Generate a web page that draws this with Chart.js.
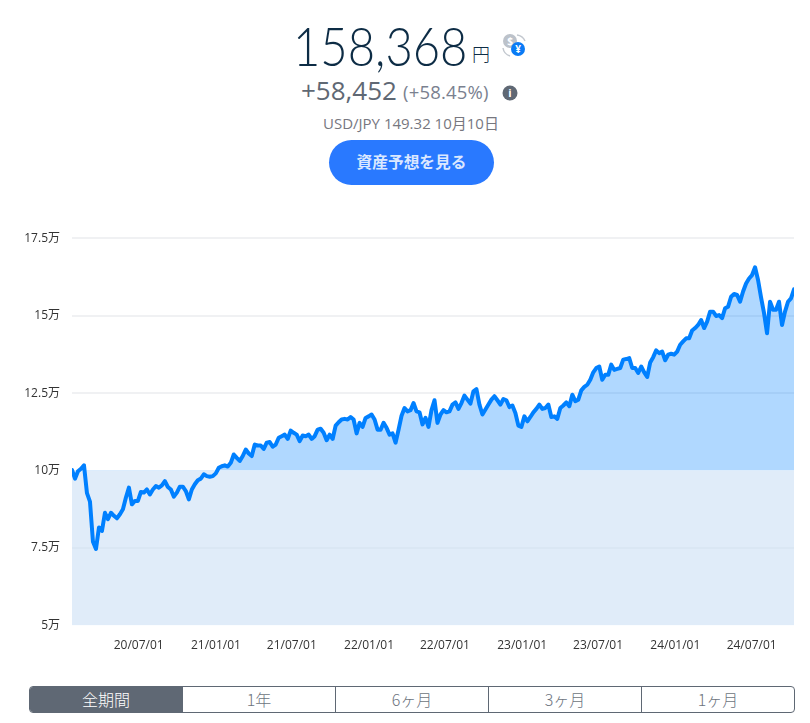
<!DOCTYPE html>
<html lang="ja">
<head>
<meta charset="utf-8">
<title>資産推移</title>
<script src="https://cdn.jsdelivr.net/npm/chart.js@4"></script>
<style>
    html, body { margin: 0; padding: 0; background: #fff; }
    body { width: 810px; height: 723px; position: relative; overflow: hidden; font-family: "Open Sans", "Noto Sans CJK JP", sans-serif; }
    .abs { position: absolute; white-space: nowrap; line-height: 1; }
    #total { left: 293px; top: 19px; font-family: "Lato", "Noto Sans CJK JP", sans-serif; font-weight: 300; font-size: 53px; color: #0d2c45; transform: scaleX(0.89); transform-origin: left top; }
    #unit { left: 472px; top: 44px; font-family: "Noto Sans CJK JP"; font-weight: 300; font-size: 18px; color: #0d2c45; }
    #gain { left: 301px; top: 77px; font-size: 26px; color: #5f6874; }
    #rate { left: 403px; top: 83px; font-size: 18.5px; letter-spacing: 0.2px; color: #7a8190; }
    #fx { left: 323px; top: 115px; font-size: 15px; color: #77777f; }
    #fx span { font-family: "Noto Sans CJK JP"; }
    #forecast { left: 329px; top: 140px; width: 165px; height: 45px; border-radius: 23px; background: #2979ff; color: #dbe8ff; font-family: "Noto Sans CJK JP"; font-weight: 700; font-size: 15.7px; line-height: 43px; text-align: center; }
    #chart-box { position: absolute; left: 0; top: 219px; width: 810px; height: 441px; }
    #tabs { position: absolute; left: 29px; top: 686px; width: 764px; height: 25px; border: 1px solid #5f6874; border-radius: 4px; display: flex; overflow: hidden; }
    #tabs div { flex: 1; text-align: center; line-height: 24px; font-family: "Noto Sans CJK JP"; font-weight: 300; font-size: 16px; color: #6d7480; border-left: 1px solid #5f6874; }
    #tabs div:first-child { border-left: 0; background: #5f6874; color: #fff; }
</style>
</head>
<body>
<div class="abs" id="total">158,368</div>
<div class="abs" id="unit">円</div>
<svg class="abs" style="left:501px;top:32px" width="26" height="26" viewBox="0 0 26 26">
    <path d="M16 3 A10 10 0 0 1 24 9" fill="none" stroke="#c3c8cf" stroke-width="1.5"/>
    <path d="M2 16 A10 10 0 0 0 9 24" fill="none" stroke="#c3c8cf" stroke-width="1.5"/>
    <circle cx="9" cy="9" r="7" fill="#bcc2ca"/>
    <text x="9" y="13" font-size="10" font-weight="700" text-anchor="middle" fill="#fff" font-family="Open Sans">$</text>
    <circle cx="17" cy="17" r="7" fill="#0a7bf5"/>
    <text x="17" y="21" font-size="10" font-weight="700" text-anchor="middle" fill="#fff" font-family="Open Sans">¥</text>
</svg>
<div class="abs" id="gain">+58,452</div>
<div class="abs" id="rate">(+58.45%)</div>
<svg class="abs" style="left:502px;top:85px" width="16" height="16" viewBox="0 0 16 16">
    <circle cx="8" cy="8" r="7.5" fill="#5f6874"/>
    <text x="8" y="12" font-size="11" font-weight="700" text-anchor="middle" fill="#fff" font-family="Open Sans">i</text>
</svg>
<div class="abs" id="fx">USD/JPY 149.32 10<span>月</span>10<span>日</span></div>
<div class="abs" id="forecast">資産予想を見る</div>
<div id="chart-box"><canvas id="asset-chart" width="810" height="441"></canvas></div>
<div id="tabs"></div>

<script>
// Data
const startDate = "2020-01-24";
const endDate = "2024-10-10";
const baseValue = 10;
const yMin = 5;
const yMax = 17.5;
const yStep = 2.5;
const tabLabels = ["全期間", "1年", "6ヶ月", "3ヶ月", "1ヶ月"];
const tickDates = ["2020-07-01", "2021-01-01", "2021-07-01", "2022-01-01", "2022-07-01", "2023-01-01", "2023-07-01", "2024-01-01", "2024-07-01"];
const tickLabels = ["20/07/01", "21/01/01", "21/07/01", "22/01/01", "22/07/01", "23/01/01", "23/07/01", "24/01/01", "24/07/01"];

// Asset value in 万円, evenly spaced from startDate to endDate
const assetValues = [
    10.02, 9.74, 9.98, 10.06, 10.17, 9.27, 9.0, 7.7, 7.47, 8.16, 8.05, 8.64, 8.43, 8.64, 8.54, 8.46, 8.59, 8.75, 9.13, 9.45, 8.91,
    9.02, 9.02, 9.31, 9.29, 9.39, 9.23, 9.39, 9.50, 9.45, 9.52, 9.66, 9.47, 9.39, 9.16, 9.29, 9.48, 9.48, 9.34, 9.07, 9.39,
    9.56, 9.69, 9.74, 9.88, 9.82, 9.80, 9.82, 9.91, 10.09, 10.14, 10.17, 10.13, 10.25, 10.52, 10.41, 10.31, 10.47, 10.68, 10.55, 10.47,
    10.84, 10.81, 10.81, 10.70, 10.90, 10.92, 10.77, 10.84, 11.06, 11.11, 11.16, 11.02, 11.29, 11.22, 11.16, 10.95, 11.13, 11.11, 11.16, 11.02,
    11.11, 11.32, 11.35, 11.22, 10.98, 11.16, 11.02, 11.45, 11.56, 11.65, 11.67, 11.65, 11.73, 11.65, 11.20, 11.54, 11.41, 11.70, 11.75, 11.81,
    11.65, 11.32, 11.32, 11.54, 11.38, 11.16, 11.20, 10.90, 11.32, 11.77, 12.02, 11.91, 11.95, 12.18, 11.91, 11.88, 11.49, 11.70, 11.41, 11.95,
    12.27, 11.54, 11.81, 11.95, 11.88, 11.91, 12.13, 12.20, 11.99, 12.18, 12.42, 12.29, 12.16, 12.56, 12.63, 12.13, 11.81, 11.97, 12.13, 12.29,
    12.40, 12.27, 12.13, 12.31, 12.27, 12.05, 12.10, 11.86, 11.45, 11.41, 11.75, 11.59, 11.73, 11.88, 11.99, 12.13, 11.99, 12.02, 12.13, 11.73,
    11.75, 11.67, 12.02, 12.10, 12.20, 12.08, 12.45, 12.24, 12.29, 12.59, 12.70, 12.77, 12.93, 13.17, 13.31, 13.36, 12.93, 13.09, 13.09, 13.42,
    13.25, 13.28, 13.31, 13.58, 13.60, 13.63, 13.31, 13.31, 13.15, 13.36, 13.17, 13.02, 13.49, 13.66, 13.88, 13.79, 13.84, 13.56, 13.74, 13.77,
    13.74, 13.84, 14.06, 14.17, 14.27, 14.27, 14.52, 14.60, 14.70, 14.86, 14.60, 14.81, 15.13, 15.13, 14.99, 15.02, 14.92, 15.24, 15.29, 15.61,
    15.70, 15.67, 15.45, 15.78, 16.04, 16.20, 16.31, 16.56, 16.15, 15.59, 15.08, 14.43, 15.45, 15.19, 15.19, 15.45, 14.70, 15.13, 15.45, 15.56, 15.85
];

// Element
let tabsElement = document.querySelector("#tabs");
let chartElement = document.querySelector("#asset-chart");

// Function
const dayOf = (date) => Date.parse(date) / 86400000;

const getAssetPoints = () => {
    let first = dayOf(startDate);
    let step = (dayOf(endDate) - first) / (assetValues.length - 1);
    return assetValues.map((value, i) => {
        return {x: first + i * step, y: value};
    });
}

// Init
tabLabels.forEach(label => {
    let tab = document.createElement("div");
    tab.textContent = label;
    tabsElement.appendChild(tab);
});

new Chart(chartElement, {
    type: "line",
    data: {
        datasets: [
            {
                data: getAssetPoints(),
                borderColor: "#0080ff",
                borderWidth: 4,
                borderJoinStyle: "round",
                borderCapStyle: "round",
                pointRadius: 0,
                tension: 0,
                fill: {
                    target: {value: baseValue},
                    above: "rgba(0,128,255,0.31)",
                    below: "rgba(0,0,0,0)"
                },
                order: 1
            },
            {
                data: [
                    {x: dayOf(startDate), y: baseValue},
                    {x: dayOf(endDate), y: baseValue}
                ],
                borderWidth: 0,
                pointRadius: 0,
                backgroundColor: "rgba(48,128,215,0.15)",
                fill: "start",
                order: 2
            }
        ]
    },
    options: {
        responsive: false,
        animation: false,
        layout: {
            padding: {top: 6, right: 16, bottom: 0, left: 0}
        },
        plugins: {
            legend: {display: false},
            tooltip: {enabled: false}
        },
        scales: {
            x: {
                type: "linear",
                min: dayOf(startDate),
                max: dayOf(endDate),
                afterBuildTicks: (axis) => {
                    axis.ticks = tickDates.map(date => ({value: dayOf(date)}));
                },
                afterFit: (axis) => {
                    axis.height = 34.5;
                },
                grid: {display: false},
                border: {display: false},
                ticks: {
                    autoSkip: false,
                    maxRotation: 0,
                    padding: 5,
                    color: "#333",
                    font: {family: "'Open Sans', 'Noto Sans CJK JP'", size: 12},
                    callback: (value) => tickLabels[tickDates.findIndex(date => dayOf(date) === value)]
                }
            },
            y: {
                min: yMin,
                max: yMax,
                afterFit: (axis) => {
                    axis.width = 72;
                },
                grid: {
                    // the band's edge at 10万 has no visible line, 7.5万 is only faint
                    color: (context) => {
                        if (context.tick.value === baseValue || context.tick.value === yMin) {
                            return "rgba(0,0,0,0)";
                        }
                        return context.tick.value < baseValue ? "#f8f9fa" : "#f0f1f3";
                    },
                    lineWidth: 2,
                    drawTicks: false
                },
                border: {display: false},
                ticks: {
                    stepSize: yStep,
                    padding: 12,
                    color: "#333",
                    font: {family: "'Open Sans', 'Noto Sans CJK JP'", size: 12},
                    callback: (value) => value + "万"
                }
            }
        }
    }
});
</script>
</body>
</html>
